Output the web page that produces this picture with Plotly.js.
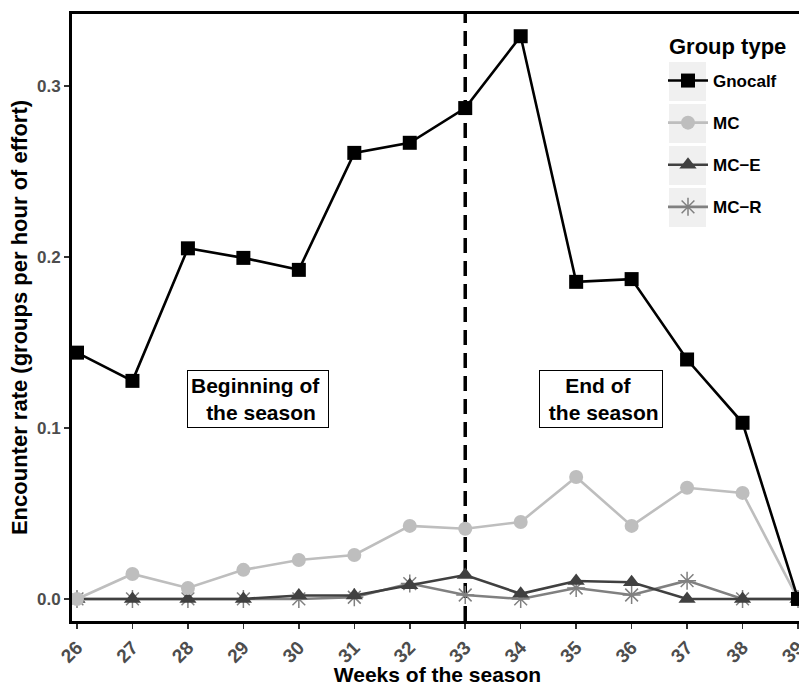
<!DOCTYPE html>
<html><head><meta charset="utf-8">
<script src="https://cdn.plot.ly/plotly-3.0.1.min.js"></script>
<style>html,body{margin:0;padding:0;background:#fff;overflow:hidden;width:799px;height:686px}</style>
</head><body><div id="chart" style="width:803px;height:686px"></div>
<script>
const weeks = [26,27,28,29,30,31,32,33,34,35,36,37,38,39];
const gnocalf = [0.144,0.1275,0.205,0.1994,0.1924,0.2608,0.2667,0.287,0.329,0.1854,0.187,0.140,0.103,0.0];
const mc      = [0.0,0.0146,0.0064,0.017,0.0228,0.0257,0.0427,0.041,0.045,0.0713,0.0427,0.065,0.062,0.0];
const mcE     = [0,0,0,0,0.002,0.002,0.008,0.014,0.003,0.0105,0.0098,0,0,0];
const mcR     = [0,0,0,0,0,0.001,0.009,0.0023,0,0.0064,0.0023,0.0107,0,0];
const seriesNames = ["Gnocalf","MC","MC\u2212E","MC\u2212R"];
const legendTitle = "Group type";
const tickLabels = ["0.0","0.1","0.2","0.3"];
const tickVals = [0,0.1,0.2,0.3];
const splitWeek = 33;
const labelBegin = "Beginning of&nbsp;<br>&nbsp;the season";
const labelEnd = "End of&nbsp;<br>&nbsp;the season";

const L=72, T=14, B=65, W=803, H=686;
const pw = W-L, ph = H-T-B;
const px = x => (x-L)/pw;
const py = y => (H-B-y)/ph;

const styles = [
  {color:'#000000', symbol:'square', size:14},
  {color:'#bebebe', symbol:'circle', size:14},
  {color:'#404040', symbol:'triangle-up', size:15},
  {color:'#808080', symbol:'asterisk-open', size:15}
];
const data = [gnocalf, mc, mcE, mcR].map((ys,i)=>({
  x: weeks, y: ys, name: seriesNames[i], type:'scatter', mode:'lines+markers',
  legendgroup: 'g'+i, legendrank: i+1,
  line:{color:styles[i].color, width:2.6},
  marker:{symbol:styles[i].symbol, size:styles[i].size, color:styles[i].color,
          line:{color:styles[i].color, width: i===3?1.5:0}}
})).reverse();

const keyBoxes = [62,104,146,188].map(y0=>({
  type:'rect', xref:'paper', yref:'paper', layer:'below',
  x0:px(669), x1:px(706), y0:py(y0+39), y1:py(y0),
  fillcolor:'#f0f0f0', line:{width:0}
}));

const layout = {
  width:W, height:H,
  margin:{l:L, r:0, t:T, b:B},
  paper_bgcolor:'#fff', plot_bgcolor:'#fff',
  font:{family:'Liberation Sans, Arial, sans-serif'},
  showlegend:true,
  legend:{
    x:px(663), y:py(63), xanchor:'left', yanchor:'top',
    traceorder:'grouped', tracegroupgap:17,
    font:{size:17, color:'#000', weight:'bold'},
    bgcolor:'rgba(0,0,0,0)', itemwidth:40
  },
  xaxis:{
    range:[25.91,39.09], tickvals:weeks, ticktext:weeks.map(String), tickangle:-45,
    ticklabeloverflow:'allow',
    showgrid:false, zeroline:false, showline:true, mirror:true, linecolor:'#000', linewidth:3,
    ticks:'outside', ticklen:5, tickcolor:'#333', tickwidth:1.5,
    tickfont:{size:19, color:'#4d4d4d', weight:'bold'},
    title:{text:'<b>Weeks of the season</b>', font:{size:21, color:'#000'}, standoff:0}
  },
  yaxis:{
    range:[-0.0129,0.342], tickvals:tickVals, ticktext:tickLabels,
    showgrid:false, zeroline:false, showline:true, mirror:true, linecolor:'#000', linewidth:3,
    ticks:'outside', ticklen:5, tickcolor:'#333', tickwidth:1.5,
    tickfont:{size:17, color:'#4d4d4d', weight:'bold'},
    title:{text:'<b>Encounter rate (groups per hour of effort)</b>', font:{size:22, color:'#000'}, standoff:4}
  },
  shapes:[
    {type:'line', xref:'x', yref:'paper', x0:splitWeek, x1:splitWeek, y0:0, y1:1,
     line:{color:'#000', width:3.5, dash:'15px,8px'}, layer:'below'}
  ].concat(keyBoxes),
  annotations:[
    {x:29.27, y:0.117, xref:'x', yref:'y', text:'<b>'+labelBegin+'</b>', showarrow:false,
     font:{size:21, color:'#000'}, bgcolor:'#fff', bordercolor:'#000', borderwidth:1, borderpad:3, align:'center'},
    {x:35.45, y:0.117, xref:'x', yref:'y', text:'<b>'+labelEnd+'</b>', showarrow:false,
     font:{size:21, color:'#000'}, bgcolor:'#fff', bordercolor:'#000', borderwidth:1, borderpad:3, align:'center'},
    {x:px(667), y:py(47), xref:'paper', yref:'paper', xanchor:'left', yanchor:'middle', showarrow:false,
     text:'<b>'+legendTitle+'</b>', font:{size:22, color:'#000'}}
  ]
};
Plotly.newPlot('chart', data, layout, {displayModeBar:false, staticPlot:true});
</script></body></html>
